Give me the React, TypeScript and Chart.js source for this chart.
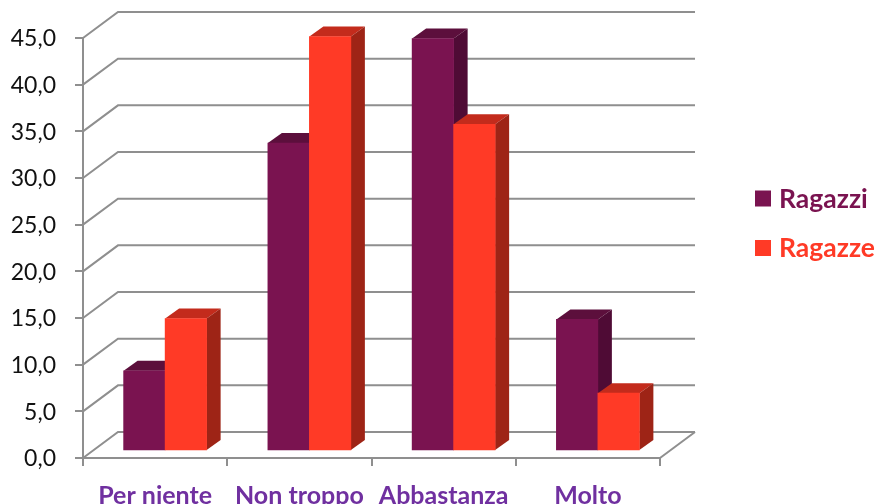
import React, { useEffect, useRef } from "react";
import { Chart, registerables } from "chart.js";

Chart.register(...registerables);

const categories = ["Per niente", "Non troppo", "Abbastanza", "Molto"];
const ragazzi = [8.6, 33.0, 44.2, 14.1];
const ragazze = [14.2, 44.4, 35.0, 6.2];
const seriesNames = ["Ragazzi", "Ragazze"];
const FONT = "Lato, Carlito, 'Open Sans', sans-serif";

const palette = [
  { front: "#7A1350", top: "#5C0F3C", side: "#4F0B35", text: "#7A1350" },
  { front: "#FF3A26", top: "#C32B1C", side: "#9E2416", text: "#FF3A26" },
];

const DEPTH_X = 35;
const DEPTH_Y = 26;
const BAR_DX = 10;
const BAR_DY = -7;
const SIDE_X = 14;
const SIDE_Y = 10;
const GRID = "#8F8F8F";

const box3dPlugin = {
  id: "box3d",
  beforeDatasetsDraw(chart: any) {
    const { ctx, chartArea, scales } = chart;
    const y = scales.y;
    ctx.save();
    ctx.strokeStyle = GRID;
    ctx.lineWidth = 2;
    y.ticks.forEach((t: any) => {
      const py = y.getPixelForValue(t.value);
      ctx.beginPath();
      ctx.moveTo(chartArea.left, py);
      ctx.lineTo(chartArea.left + DEPTH_X, py - DEPTH_Y);
      ctx.lineTo(chartArea.right + DEPTH_X, py - DEPTH_Y);
      ctx.stroke();
    });
    const base = y.getPixelForValue(0);
    ctx.beginPath();
    ctx.moveTo(chartArea.right, base);
    ctx.lineTo(chartArea.right + DEPTH_X, base - DEPTH_Y);
    ctx.stroke();

    ctx.translate(BAR_DX, BAR_DY);
    chart.data.datasets.forEach((_: any, i: number) => {
      const meta = chart.getDatasetMeta(i);
      const c = palette[i];
      meta.data.forEach((el: any) => {
        const x0 = el.x - el.width / 2;
        const x1 = el.x + el.width / 2;
        ctx.fillStyle = c.top;
        ctx.beginPath();
        ctx.moveTo(x0, el.y);
        ctx.lineTo(x0 + SIDE_X, el.y - SIDE_Y);
        ctx.lineTo(x1 + SIDE_X, el.y - SIDE_Y);
        ctx.lineTo(x1, el.y);
        ctx.closePath();
        ctx.fill();
        ctx.fillStyle = c.side;
        ctx.beginPath();
        ctx.moveTo(x1, el.y);
        ctx.lineTo(x1 + SIDE_X, el.y - SIDE_Y);
        ctx.lineTo(x1 + SIDE_X, el.base - SIDE_Y);
        ctx.lineTo(x1, el.base);
        ctx.closePath();
        ctx.fill();
        el.draw(ctx);
      });
    });
    ctx.restore();
    return false;
  },
  afterDraw(chart: any) {
    const { ctx } = chart;
    ctx.save();
    ctx.font = `bold 26.5px ${FONT}`;
    ctx.textBaseline = "middle";
    seriesNames.forEach((name, i) => {
      const cy = 198.5 + i * 49.5;
      ctx.fillStyle = palette[i].front;
      ctx.fillRect(755, cy - 8, 16, 16);
      ctx.fillStyle = palette[i].text;
      ctx.fillText(name, 779, cy + 0.5);
    });
    ctx.restore();
  },
};

export default function App() {
  const ref = useRef<HTMLCanvasElement>(null);
  useEffect(() => {
    const chart = new Chart(ref.current as HTMLCanvasElement, {
      type: "bar",
      data: {
        labels: categories,
        datasets: [
          { label: seriesNames[0], data: ragazzi, backgroundColor: palette[0].front, barThickness: 41.5 },
          { label: seriesNames[1], data: ragazze, backgroundColor: palette[1].front, barThickness: 41.5 },
        ],
      },
      options: {
        responsive: false,
        animation: false,
        layout: { padding: { left: 0, top: 38, right: 216, bottom: 0 } },
        plugins: { legend: { display: false }, title: { display: false }, tooltip: { enabled: false } },
        scales: {
          x: {
            afterFit: (s: any) => { s.height = 46; },
            border: { color: GRID, width: 2 },
            grid: { drawOnChartArea: false, drawTicks: true, tickLength: 8, color: GRID, lineWidth: 2 },
            ticks: { color: "#7030A0", font: { family: FONT, size: 25, weight: "bold" }, padding: 15, maxRotation: 0, autoSkip: false },
          },
          y: {
            min: 0,
            max: 45,
            afterFit: (s: any) => { s.width = 83; },
            border: { color: GRID, width: 2 },
            grid: { drawOnChartArea: false, drawTicks: true, tickLength: 8, color: GRID, lineWidth: 2 },
            ticks: {
              stepSize: 5,
              color: "#111111",
              font: { family: FONT, size: 23 },
              padding: 19,
              labelOffset: 1,
              callback: (v: any) => Number(v).toFixed(1).replace(".", ","),
            },
          },
        },
      } as any,
      plugins: [box3dPlugin as any],
    });
    return () => chart.destroy();
  }, []);
  return (
    <div style={{ position: "fixed", left: 0, top: 0, width: 876, height: 504, background: "#fff" }}>
      <canvas ref={ref} width={876} height={504} style={{ display: "block" }} />
    </div>
  );
}
